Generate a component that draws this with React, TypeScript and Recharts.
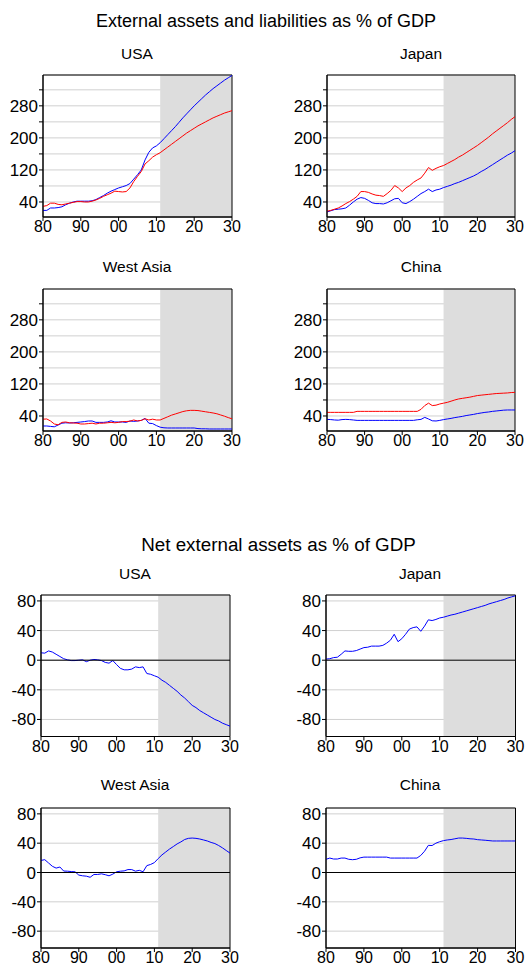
import React from "react";
import {
  LineChart,
  Line,
  XAxis,
  YAxis,
  CartesianGrid,
  ReferenceArea,
  ReferenceLine,
} from "recharts";

// 1980 .. 2030, one point per year
const YEARS = Array.from({ length: 51 }, (_, i) => 1980 + i);
const X_TICKS = [1980, 1990, 2000, 2010, 2020, 2030];
const PROJECTION_START = 2011;

// External assets (red) and liabilities (blue), % of GDP
const USA_ASSETS = [
  29, 31, 37, 37, 34, 33, 35, 37, 39, 41, 41, 40, 40, 42, 45, 49, 54, 58, 62, 67,
  66, 65, 66, 75, 91, 104, 116, 135, 143, 152, 158, 163, 170, 177, 184, 191, 198, 205, 212, 218,
  224, 230, 235, 240, 245, 250, 254, 258, 262, 265, 268,
];
const USA_LIABS = [
  19, 19, 25, 25, 26, 28, 33, 37, 40, 42, 42, 42, 42, 43, 46, 51, 56, 62, 67, 71,
  75, 78, 81, 86, 97, 108, 120, 145, 164, 175, 180, 188, 198, 208, 218, 228, 239, 250, 260, 270,
  280, 289, 298, 307, 315, 323, 330, 337, 344, 350, 356,
];
const JAPAN_ASSETS = [
  17, 19, 22, 25, 30, 36, 41, 47, 54, 66, 66, 64, 60, 57, 56, 54, 61, 69, 81, 75,
  66, 75, 81, 89, 95, 100, 112, 126, 119, 124, 128, 131, 136, 141, 146, 152, 157, 163, 169, 175,
  181, 188, 195, 202, 210, 217, 224, 231, 238, 246, 253,
];
const JAPAN_LIABS = [
  15, 18, 21, 22, 23, 25, 32, 40, 47, 51, 49, 44, 38, 36, 36, 35, 38, 43, 48, 49,
  38, 36, 41, 47, 54, 61, 66, 72, 66, 70, 72, 76, 79, 82, 86, 89, 93, 97, 101, 105,
  110, 116, 121, 127, 133, 139, 145, 151, 157, 162, 168,
];
const WASIA_ASSETS = [
  32, 32.5, 27.5, 20, 18, 24, 25, 23, 22.5, 22, 20, 20, 21, 22, 20, 22, 22, 23, 24, 23,
  24, 26, 26, 27, 30, 27.5, 29, 33, 30, 32, 30, 30, 34, 38, 42, 45, 48, 51, 53, 54,
  54, 53.5, 52, 50.5, 49, 47.5, 45.5, 42.5, 39.5, 36, 33,
];
const WASIA_LIABS = [
  15, 15, 14, 13, 17.5, 22, 23, 22.5, 23, 24, 25, 26, 27.5, 27.5, 24, 24, 24, 25, 28, 25,
  25, 25, 24, 27.5, 26.5, 27.5, 29, 34, 22, 21, 16, 12, 10.5, 10, 10, 10, 10, 10, 10, 10,
  10, 8.5, 8, 8, 7.5, 7.5, 7.5, 7.5, 7.5, 7.5, 7.5,
];
const CHINA_ASSETS = [
  49, 49, 49, 49, 49, 49, 49, 49, 51.5, 51.5, 51.5, 51.5, 51.5, 51.5, 51.5, 51.5, 51.5, 51.5, 51.5, 51.5,
  51.5, 51.5, 51.5, 51.5, 51.5, 56.5, 66, 72, 66, 67, 70, 72, 74, 77, 80, 82.5, 84, 85.5, 87, 89,
  91, 92, 93, 94, 95, 96, 96.5, 97, 97.5, 98.5, 99,
];
const CHINA_LIABS = [
  31.5, 31, 30, 29.5, 31, 31.5, 31, 30, 29, 29, 29, 29, 29, 29, 29, 29, 29, 29, 29, 29,
  29, 29, 29, 29, 30.5, 31.5, 36.5, 32.5, 28, 27.5, 29, 31, 32.5, 34, 36, 37.5, 39, 41, 42.5, 44,
  46, 47.5, 49, 50, 51.5, 52.5, 53.5, 54.5, 55, 55, 55,
];

// Net external assets, % of GDP
const USA_NET = [
  10, 9.5, 12.5, 11, 8, 5, 2, 0.5, -0.5, -0.5, 0, 0.5, -2, 0, 1, 0.5, -0.5, -3, -4, -0.5,
  -6, -11, -13, -13, -12, -9, -10, -9, -18, -19, -21, -23, -27, -30, -34, -38, -42, -47, -51, -56,
  -61, -64, -68, -71, -74, -77, -80, -82, -85, -87, -89,
];
const JAPAN_NET = [
  1.5, 2, 3.5, 4, 8, 12.5, 12, 12, 13, 15, 17, 17.5, 19, 19, 19, 20, 23, 27, 35, 25,
  29, 35, 42, 44, 45, 39, 46, 54.5, 53.5, 55, 57, 58, 59.5, 61, 62, 63.5, 65, 66.5, 68, 69.5,
  71, 72.5, 74, 76, 77.5, 79, 80.5, 82, 84, 85.5, 87,
];
const WASIA_NET = [
  16.5, 17.5, 13, 8.5, 6, 7.5, 2, 1.8, 1.3, 1, -3.5, -4.5, -5, -6.5, -2.7, -2.7, -1.8, -3, -4.5, -2.2,
  1, 1.8, 2.2, 4, 4, 1.8, 3, 1, 9.4, 11, 13.5, 19, 24, 28, 32, 35.4, 39, 41.7, 45, 46.6,
  47, 46.6, 45.7, 44.4, 43, 41, 39.5, 36.8, 33.6, 30, 26.5,
];
const CHINA_NET = [
  18, 19.7, 18.4, 18.4, 19.7, 19.7, 18, 17.5, 18, 20, 21, 21, 21, 21, 21, 21, 21, 19.7, 19.7, 19.7,
  19.7, 19.7, 19.7, 19.7, 19.7, 23.3, 29, 37, 36.8, 40, 42, 43.5, 44.4, 45, 46, 47, 47, 46.6, 46, 45.7,
  44.8, 44.4, 44, 43.5, 43, 43, 43, 43, 43, 43, 43,
];

const GROSS_DOMAIN: [number, number] = [2.5, 357];
const GROSS_TICKS = [40, 80, 120, 160, 200, 240, 280, 320];
const GROSS_LABELS = [40, 120, 200, 280];
const NET_DOMAIN: [number, number] = [-103, 88];
const NET_TICKS = [-80, -40, 0, 40, 80];

const FONT = "'Liberation Sans', Arial, Helvetica, sans-serif";
const Y_TICK_FONT = 17;
const X_TICK_FONT = 16;

const gross = (assets: number[], liabs: number[]) =>
  YEARS.map((year, i) => ({ year, assets: assets[i], liabs: liabs[i] }));
const net = (values: number[]) => YEARS.map((year, i) => ({ year, net: values[i] }));

type PanelProps = {
  left: number;
  top: number;
  width: number;
  height: number;
  rows: Record<string, number>[];
  domain: [number, number];
  ticks: number[];
  labels: number[];
  isNet?: boolean;
};

const YW = 42;
const MT = 2;
const MR = 12;
const XH = 22;

function Panel({ left, top, width, height, rows, domain, ticks, labels, isNet }: PanelProps) {
  return (
    <div style={{ position: "absolute", left: left - YW, top: top - MT }}>
      <LineChart
        width={width + YW + MR}
        height={height + MT + XH}
        data={rows}
        margin={{ top: MT, right: MR, bottom: 0, left: 0 }}
      >
        <ReferenceArea
          x1={PROJECTION_START}
          x2={2030}
          y1={domain[0]}
          y2={domain[1]}
          fill="#dddddd"
          fillOpacity={1}
          stroke="none"
        />
        <CartesianGrid vertical={false} stroke="#d0d0d0" />
        <XAxis
          dataKey="year"
          type="number"
          domain={[1980, 2030]}
          allowDataOverflow
          ticks={X_TICKS}
          interval={0}
          height={XH}
          tickSize={4}
          tickMargin={0}
          tickFormatter={(v: number) => String(v % 100).padStart(2, "0")}
          axisLine={{ stroke: "#000" }}
          tickLine={{ stroke: "#000" }}
          tick={{ fill: "#000", fontSize: X_TICK_FONT, fontFamily: FONT }}
        />
        <YAxis
          type="number"
          domain={domain}
          allowDataOverflow
          ticks={ticks}
          interval={0}
          width={YW}
          tickSize={4}
          tickMargin={1}
          tickFormatter={(v: number) => (labels.includes(v) ? String(v) : "")}
          axisLine={{ stroke: "#000" }}
          tickLine={{ stroke: "#000" }}
          tick={{ fill: "#000", fontSize: Y_TICK_FONT, fontFamily: FONT }}
        />
        {isNet ? (
          <Line
            dataKey="net"
            type="linear"
            stroke="#0000ff"
            strokeWidth={1}
            dot={false}
            isAnimationActive={false}
          />
        ) : null}
        {!isNet ? (
          <Line
            dataKey="liabs"
            type="linear"
            stroke="#0000ff"
            strokeWidth={1}
            dot={false}
            isAnimationActive={false}
          />
        ) : null}
        {!isNet ? (
          <Line
            dataKey="assets"
            type="linear"
            stroke="#ff0000"
            strokeWidth={1}
            dot={false}
            isAnimationActive={false}
          />
        ) : null}
        {isNet ? <ReferenceLine y={0} stroke="#000" strokeWidth={1} /> : null}
        <ReferenceArea
          x1={1980}
          x2={2030}
          y1={domain[0]}
          y2={domain[1]}
          fill="none"
          stroke="#000"
          strokeWidth={1}
        />
      </LineChart>
    </div>
  );
}

const titleStyle: React.CSSProperties = { fontFamily: FONT, fill: "#000" };

export default function App() {
  return (
    <div
      style={{
        position: "absolute",
        left: 0,
        top: 0,
        width: 525,
        height: 967,
        overflow: "hidden",
        background: "#fff",
      }}
    >
      <Panel left={43} top={75} width={189} height={142} rows={gross(USA_ASSETS, USA_LIABS)}
        domain={GROSS_DOMAIN} ticks={GROSS_TICKS} labels={GROSS_LABELS} />
      <Panel left={327} top={75} width={188} height={142} rows={gross(JAPAN_ASSETS, JAPAN_LIABS)}
        domain={GROSS_DOMAIN} ticks={GROSS_TICKS} labels={GROSS_LABELS} />
      <Panel left={43} top={288.5} width={189} height={142} rows={gross(WASIA_ASSETS, WASIA_LIABS)}
        domain={GROSS_DOMAIN} ticks={GROSS_TICKS} labels={GROSS_LABELS} />
      <Panel left={327} top={288.5} width={188} height={142} rows={gross(CHINA_ASSETS, CHINA_LIABS)}
        domain={GROSS_DOMAIN} ticks={GROSS_TICKS} labels={GROSS_LABELS} />

      <Panel left={41} top={594.5} width={189} height={141.5} rows={net(USA_NET)}
        domain={NET_DOMAIN} ticks={NET_TICKS} labels={NET_TICKS} isNet />
      <Panel left={325.5} top={594.5} width={189.5} height={141.5} rows={net(JAPAN_NET)}
        domain={NET_DOMAIN} ticks={NET_TICKS} labels={NET_TICKS} isNet />
      <Panel left={41} top={807.5} width={189} height={140} rows={net(WASIA_NET)}
        domain={NET_DOMAIN} ticks={NET_TICKS} labels={NET_TICKS} isNet />
      <Panel left={325.5} top={807.5} width={189.5} height={140} rows={net(CHINA_NET)}
        domain={NET_DOMAIN} ticks={NET_TICKS} labels={NET_TICKS} isNet />

      <svg
        width={525}
        height={967}
        style={{ position: "absolute", left: 0, top: 0, pointerEvents: "none" }}
      >
        <text x={266} y={27} textAnchor="middle" fontSize={18} style={titleStyle}>
          External assets and liabilities as % of GDP
        </text>
        <text x={137} y={59} textAnchor="middle" fontSize={15.5} style={titleStyle}>USA</text>
        <text x={421} y={59} textAnchor="middle" fontSize={15.5} style={titleStyle}>Japan</text>
        <text x={137} y={271.5} textAnchor="middle" fontSize={15.5} style={titleStyle}>West Asia</text>
        <text x={421} y={271.5} textAnchor="middle" fontSize={15.5} style={titleStyle}>China</text>

        <text x={278.5} y={551} textAnchor="middle" fontSize={18.8} style={titleStyle}>
          Net external assets as % of GDP
        </text>
        <text x={135} y={578.5} textAnchor="middle" fontSize={15.5} style={titleStyle}>USA</text>
        <text x={420} y={578.5} textAnchor="middle" fontSize={15.5} style={titleStyle}>Japan</text>
        <text x={135} y={790} textAnchor="middle" fontSize={15.5} style={titleStyle}>West Asia</text>
        <text x={420} y={790} textAnchor="middle" fontSize={15.5} style={titleStyle}>China</text>
      </svg>
    </div>
  );
}
